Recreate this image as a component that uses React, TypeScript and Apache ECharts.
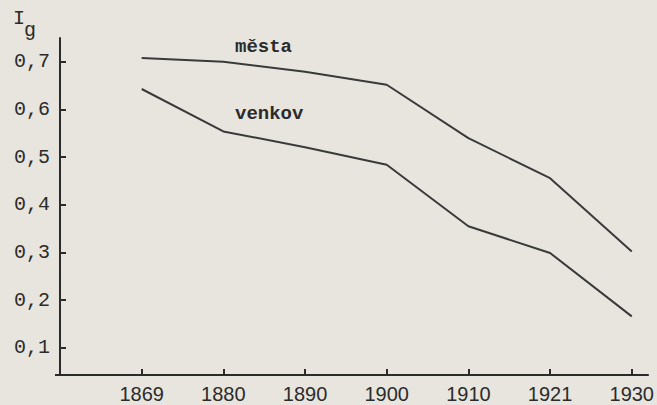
import React, { useEffect, useRef } from "react";
import * as echarts from "echarts";

const years = ["1869", "1880", "1890", "1900", "1910", "1921", "1930"];
const mesta = [0.708, 0.7, 0.679, 0.652, 0.54, 0.456, 0.302];
const venkov = [0.643, 0.554, 0.521, 0.484, 0.355, 0.299, 0.166];
const yTicks = [0.1, 0.2, 0.3, 0.4, 0.5, 0.6, 0.7];
const xTicks = [0, 1, 2, 3, 4, 5, 6];

const INK = "#2b2b2b";
const LINE = "#3a3a3a";
const MONO = "'Liberation Mono', 'DejaVu Sans Mono', monospace";
const SANS = "'Liberation Sans', Arial, sans-serif";

export default function App() {
  const ref = useRef<HTMLDivElement>(null);
  useEffect(() => {
    document.body.style.margin = "0";
    const chart = echarts.init(ref.current!, null, { renderer: "svg" });
    const toPts = (arr: number[]) => arr.map((v, i) => [i, v]);
    chart.setOption({
      animation: false,
      backgroundColor: "#e7e5de",
      grid: { left: 60, right: 7, top: 38, bottom: 30 },
      xAxis: {
        type: "value",
        min: -1,
        max: 6.2,
        axisLine: { show: true, onZero: false, lineStyle: { color: INK, width: 2 } },
        axisTick: {
          show: true,
          inside: true,
          length: 6,
          customValues: xTicks,
          lineStyle: { color: INK, width: 2 },
        },
        axisLabel: {
          customValues: xTicks,
          formatter: (v: number) => years[Math.round(v)] ?? "",
          color: INK,
          fontFamily: SANS,
          fontSize: 20,
          margin: 9,
        },
        splitLine: { show: false },
      },
      yAxis: {
        type: "value",
        min: 0.043,
        max: 0.75,
        axisLine: { show: true, onZero: false, lineStyle: { color: INK, width: 2 } },
        axisTick: {
          show: true,
          inside: true,
          length: 6,
          customValues: yTicks,
          lineStyle: { color: INK, width: 2 },
        },
        axisLabel: {
          customValues: yTicks,
          formatter: (v: number) => v.toFixed(1).replace(".", ","),
          color: INK,
          fontFamily: MONO,
          fontSize: 20,
          margin: 10,
        },
        splitLine: { show: false },
      },
      graphic: [
        { type: "line", shape: { x1: 55, y1: 375, x2: 60, y2: 375 }, style: { stroke: INK, lineWidth: 2 } },
        { type: "text", x: 13, y: 18, style: { text: "I", font: `20px ${MONO}`, fill: INK, verticalAlign: "middle" } },
        { type: "text", x: 24, y: 30, style: { text: "g", font: `20px ${MONO}`, fill: INK, verticalAlign: "middle" } },
        { type: "text", x: 235, y: 47, style: { text: "města", font: `bold 19px ${MONO}`, fill: INK, verticalAlign: "middle" } },
        { type: "text", x: 235, y: 114, style: { text: "venkov", font: `bold 19px ${MONO}`, fill: INK, verticalAlign: "middle" } },
      ],
      series: [
        {
          name: "města",
          type: "line",
          data: toPts(mesta),
          symbol: "none",
          lineStyle: { color: LINE, width: 2 },
        },
        {
          name: "venkov",
          type: "line",
          data: toPts(venkov),
          symbol: "none",
          lineStyle: { color: LINE, width: 2 },
        },
      ],
    });
    return () => chart.dispose();
  }, []);
  return <div ref={ref} style={{ width: 657, height: 405 }} />;
}
